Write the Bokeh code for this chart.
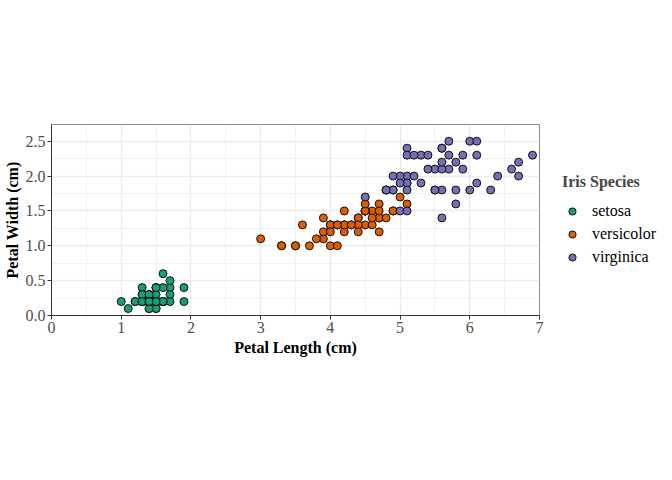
from bokeh.plotting import figure
from bokeh.models import Range1d, FixedTicker, Legend, LegendItem, ColumnDataSource, CustomJSTickFormatter
from bokeh.embed import file_html
from bokeh.resources import INLINE

species = ["setosa", "versicolor", "virginica"]
colors = ["#1B9E77", "#D95F02", "#7570B3"]

setosa_len = [1.4,1.4,1.3,1.5,1.4,1.7,1.4,1.5,1.4,1.5,1.5,1.6,1.4,1.1,1.2,1.5,1.3,1.4,1.7,1.5,1.7,1.5,1.0,1.7,1.9,1.6,1.6,1.5,1.4,1.6,1.6,1.5,1.5,1.4,1.5,1.2,1.3,1.4,1.3,1.5,1.3,1.3,1.3,1.6,1.9,1.4,1.6,1.4,1.5,1.4]
setosa_wid = [0.2,0.2,0.2,0.2,0.2,0.4,0.3,0.2,0.2,0.1,0.2,0.2,0.1,0.1,0.2,0.4,0.4,0.3,0.3,0.3,0.2,0.4,0.2,0.5,0.2,0.2,0.4,0.2,0.2,0.2,0.2,0.4,0.1,0.2,0.2,0.2,0.2,0.1,0.2,0.2,0.3,0.3,0.2,0.6,0.4,0.3,0.2,0.2,0.2,0.2]
versicolor_len = [4.7,4.5,4.9,4.0,4.6,4.5,4.7,3.3,4.6,3.9,3.5,4.2,4.0,4.7,3.6,4.4,4.5,4.1,4.5,3.9,4.8,4.0,4.9,4.7,4.3,4.4,4.8,5.0,4.5,3.5,3.8,3.7,3.9,5.1,4.5,4.5,4.7,4.4,4.1,4.0,4.4,4.6,4.0,3.3,4.2,4.2,4.2,4.3,3.0,4.1]
versicolor_wid = [1.4,1.5,1.5,1.3,1.5,1.3,1.6,1.0,1.3,1.4,1.0,1.5,1.0,1.4,1.3,1.4,1.5,1.0,1.5,1.1,1.8,1.3,1.5,1.2,1.3,1.4,1.4,1.7,1.5,1.0,1.1,1.0,1.2,1.6,1.5,1.6,1.5,1.3,1.3,1.3,1.2,1.4,1.2,1.0,1.3,1.2,1.3,1.3,1.1,1.3]
virginica_len = [6.0,5.1,5.9,5.6,5.8,6.6,4.5,6.3,5.8,6.1,5.1,5.3,5.5,5.0,5.1,5.3,5.5,6.7,6.9,5.0,5.7,4.9,6.7,4.9,5.7,6.0,4.8,4.9,5.6,5.8,6.1,6.4,5.6,5.1,5.6,6.1,5.6,5.5,4.8,5.4,5.6,5.1,5.1,5.9,5.7,5.2,5.0,5.2,5.4,5.1]
virginica_wid = [2.5,1.9,2.1,1.8,2.2,2.1,1.7,1.8,1.8,2.5,2.0,1.9,2.1,2.0,2.4,2.3,1.8,2.2,2.3,1.5,2.3,2.0,2.0,1.8,2.1,1.8,1.8,1.8,2.1,1.6,1.9,2.0,2.2,1.5,1.4,2.3,2.4,1.8,1.8,2.1,2.4,2.3,1.9,2.3,2.5,2.3,1.9,2.0,2.3,1.8]

x_ticks = [0, 1, 2, 3, 4, 5, 6, 7]
y_ticks = [0.0, 0.5, 1.0, 1.5, 2.0, 2.5]
x_minor = [0.5, 1.5, 2.5, 3.5, 4.5, 5.5, 6.5]
y_minor = [0.25, 0.75, 1.25, 1.75, 2.25]

FONT = "'Liberation Serif', 'Times New Roman', serif"

p = figure(width=656, height=464, output_backend="svg", toolbar_location=None,
           x_range=Range1d(0, 7), y_range=Range1d(0, 2.74),
           frame_width=488, frame_height=191,
           min_border_left=44, min_border_top=124, min_border_bottom=10, min_border_right=10)

p.background_fill_color = "white"
p.border_fill_color = "white"
p.outline_line_color = "#8c8c8c"
p.outline_line_width = 1

for ax, ticks, minor in ((p.xaxis[0], x_ticks, x_minor), (p.yaxis[0], y_ticks, y_minor)):
    ax.ticker = FixedTicker(ticks=ticks, minor_ticks=minor)
    ax.axis_line_color = "#333333"
    ax.axis_line_width = 1
    ax.major_tick_line_color = "#333333"
    ax.major_tick_in = 0
    ax.major_tick_out = 4
    ax.minor_tick_in = 0
    ax.minor_tick_out = 0
    ax.major_label_text_font = FONT
    ax.major_label_text_font_size = "16px"
    ax.major_label_text_color = "#4D4D4D"
    ax.axis_label_text_font = FONT
    ax.axis_label_text_font_size = "16px"
    ax.axis_label_text_font_style = "bold"
    ax.axis_label_text_color = "black"
    ax.major_label_standoff = 2
    ax.axis_label_standoff = 3

p.yaxis[0].axis_label_standoff = 2
p.xaxis[0].axis_label = "Petal Length (cm)"
p.yaxis[0].axis_label = "Petal Width (cm)"
p.yaxis[0].formatter = CustomJSTickFormatter(code="return tick.toFixed(1);")

for g in (p.xgrid[0], p.ygrid[0]):
    g.grid_line_color = "#EBEBEB"
    g.grid_line_width = 1.4
    g.minor_grid_line_color = "#EBEBEB"
    g.minor_grid_line_width = 0.7
p.xgrid[0].ticker = FixedTicker(ticks=x_ticks, minor_ticks=x_minor)
p.ygrid[0].ticker = FixedTicker(ticks=y_ticks, minor_ticks=y_minor)

data = [(setosa_len, setosa_wid), (versicolor_len, versicolor_wid), (virginica_len, virginica_wid)]
items = []
for name, col, (xs, ys) in zip(species, colors, data):
    src = ColumnDataSource(dict(x=xs, y=ys))
    r = p.scatter("x", "y", source=src, size=8, fill_color=col, line_color="black", line_width=0.9)
    items.append(LegendItem(label=name, renderers=[r]))

legend = Legend(items=items, title="Iris Species", location="center_left",
                title_text_font=FONT, title_text_font_size="16px", title_text_font_style="bold",
                label_text_font=FONT, label_text_font_size="16px", label_text_color="black",
                border_line_color=None, background_fill_color=None,
                glyph_width=20, glyph_height=18, label_standoff=10, spacing=3, label_height=20,
                margin=23, padding=4, title_standoff=10)
p.add_layout(legend, "right")

open("out.html", "w").write(file_html(p, INLINE))
